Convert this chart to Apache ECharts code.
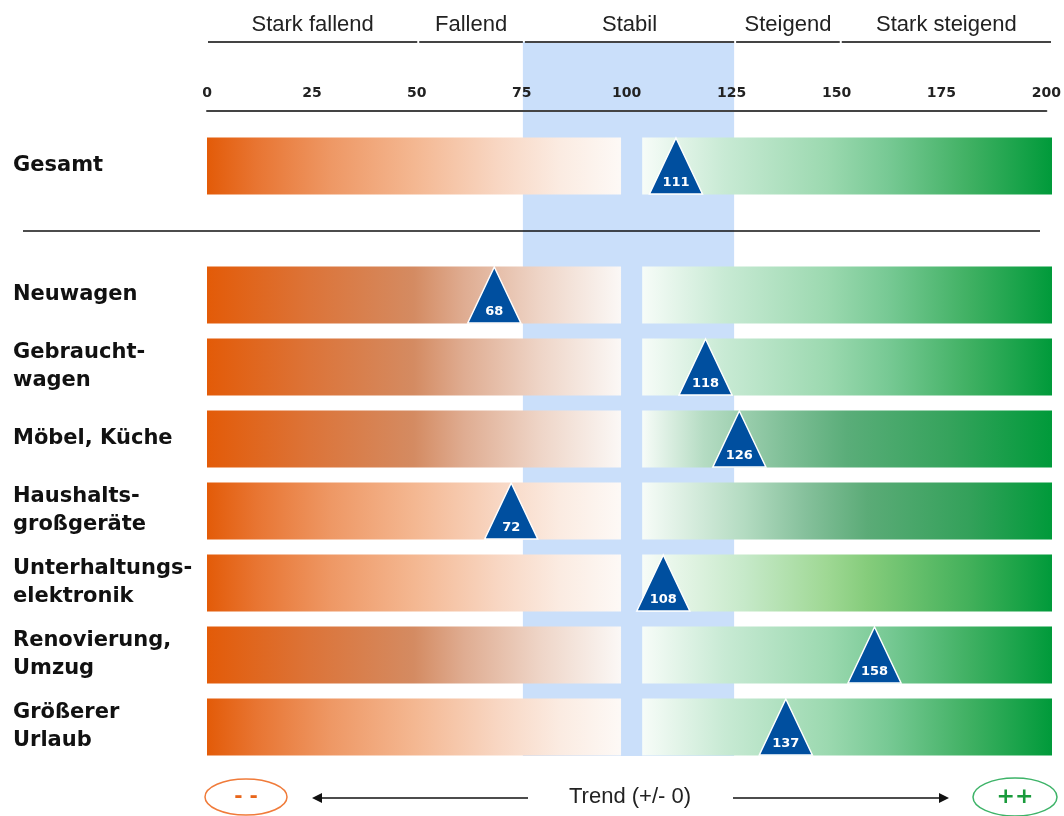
<!DOCTYPE html>
<html>
<head>
<meta charset="utf-8">
<script src="https://cdn.jsdelivr.net/npm/echarts@6/dist/echarts.min.js"></script>
<style>html,body{margin:0;padding:0;background:#fff;}#c{width:1064px;height:816px;}</style>
</head>
<body>
<div id="c"></div>
<script>
// ---- data ----
const totalName = ['Gesamt'];
const totalValue = [111];
const rowNames = ['Neuwagen', 'Gebraucht-\nwagen', 'Möbel, Küche', 'Haushalts-\ngroßgeräte', 'Unterhaltungs-\nelektronik', 'Renovierung,\nUmzug', 'Größerer\nUrlaub'];
const rowValues = [68, 118, 126, 72, 108, 158, 137];
const zoneLabels = ['Stark fallend', 'Fallend', 'Stabil', 'Steigend', 'Stark steigend'];
const zoneBounds = [0, 50, 75, 125, 150, 200];
const stableZone = [75, 125];
const scaleMin = 0, scaleMax = 200, tickStep = 25;
const leftEnd = 98, rightStart = 103;
const trendText = 'Trend (+/- 0)';

// ---- styles ----
function grad(stops) {
  return { type: 'linear', x: 0, y: 0, x2: 1, y2: 0,
    colorStops: stops.map(s => ({ offset: s[0], color: s[1] })) };
}
const orangeGrad = {
  light: grad([[0,'#e35b08'],[0.12,'#e87532'],[0.3,'#ee9865'],[0.5,'#f4b791'],[0.7,'#f8d6c2'],[0.85,'#fbebe1'],[1,'#fdf9f6']]),
  brown: grad([[0,'#e35b08'],[0.25,'#dc7439'],[0.5,'#d48b62'],[0.62,'#dfac91'],[0.8,'#eed4c6'],[1,'#fbf8f6']])
};
const greenGrad = {
  base: grad([[0,'#f7fcf8'],[0.2,'#c8ead4'],[0.45,'#9cd9b0'],[0.6,'#77c994'],[0.8,'#3fb062'],[1,'#009a3a']]),
  dark: grad([[0,'#f7fcf8'],[0.15,'#b5dcc3'],[0.35,'#7fbf97'],[0.5,'#5aad79'],[0.75,'#35a35c'],[1,'#009a3a']]),
  haus: grad([[0,'#f7fcf8'],[0.25,'#b3dbc1'],[0.4,'#85c09b'],[0.55,'#5bab77'],[0.8,'#33a15a'],[1,'#009a3a']]),
  yell: grad([[0,'#f7fcf8'],[0.25,'#c6e9c9'],[0.45,'#9fd894'],[0.55,'#85cc7b'],[0.8,'#42b05a'],[1,'#009a3a']])
};
const totalStyle = [['light','base']];
const rowStyle = [['brown','base'],['brown','base'],['brown','dark'],['light','haus'],['light','yell'],['brown','base'],['light','base']];

const LEFT = 207, RIGHT = 12;
const labelFont = { fontFamily: 'DejaVu Sans', fontWeight: 'bold', fontSize: 21, color: '#111', lineHeight: 28 };

function catAxis(gi, names) {
  return { type: 'category', gridIndex: gi, data: names, inverse: true,
    axisLine: { show: false }, axisTick: { show: false }, splitLine: { show: false },
    axisLabel: Object.assign({ align: 'left', margin: LEFT - 13 }, labelFont) };
}
function hiddenX(gi) {
  return { type: 'value', gridIndex: gi, min: scaleMin, max: scaleMax, show: false };
}
function barSeries(gi, names, styles, values) {
  const common = { type: 'bar', xAxisIndex: gi, yAxisIndex: gi, stack: 'row' + gi, barWidth: 57, z: 2, silent: true };
  return [
    Object.assign({}, common, { data: names.map((n, i) => ({ value: leftEnd, itemStyle: { color: orangeGrad[styles[i][0]] } })) }),
    Object.assign({}, common, { data: names.map(() => ({ value: rightStart - leftEnd, itemStyle: { color: 'rgba(0,0,0,0)' } })) }),
    Object.assign({}, common, { data: names.map((n, i) => ({ value: scaleMax - rightStart, itemStyle: { color: greenGrad[styles[i][1]] } })) }),
    { type: 'scatter', xAxisIndex: gi, yAxisIndex: gi, z: 5, silent: true,
      symbol: 'triangle', symbolSize: [53, 56],
      itemStyle: { color: '#004f9f', opacity: 1, borderColor: '#ffffff', borderWidth: 1.5 },
      label: { show: true, position: 'inside', offset: [0, 17], color: '#fff',
        fontFamily: 'DejaVu Sans', fontWeight: 'bold', fontSize: 13,
        formatter: p => p.value[0] },
      data: values.map((v, i) => [v, names[i]]) }
  ];
}

const option = {
  animation: false,
  backgroundColor: '#fff',
  grid: [
    { left: LEFT, right: RIGHT, top: 42, bottom: 60 },
    { left: LEFT, right: RIGHT, top: 110, height: 1 },
    { left: LEFT, right: RIGHT, top: 130, height: 72 },
    { left: LEFT, right: RIGHT, top: 259, height: 504 }
  ],
  xAxis: [
    hiddenX(0),
    { type: 'value', gridIndex: 1, position: 'top', min: scaleMin, max: scaleMax, interval: tickStep,
      axisLine: { show: true, lineStyle: { color: '#444', width: 2 } },
      axisTick: { show: false }, splitLine: { show: false },
      axisLabel: { fontFamily: 'DejaVu Sans', fontWeight: 'bold', fontSize: 14, color: '#222', margin: 10 } },
    hiddenX(2),
    hiddenX(3)
  ],
  yAxis: [
    { type: 'value', gridIndex: 0, min: 0, max: 1, show: false },
    { type: 'value', gridIndex: 1, min: 0, max: 1, show: false },
    catAxis(2, totalName),
    catAxis(3, rowNames)
  ],
  series: [
    { type: 'custom', xAxisIndex: 0, yAxisIndex: 0, z: 0, silent: true,
      data: [[stableZone[0], stableZone[1]]],
      renderItem: function (params, api) {
        const a = api.coord([api.value(0), 1]);
        const b = api.coord([api.value(1), 0]);
        return { type: 'rect', shape: { x: a[0] - 1, y: a[1], width: b[0] - a[0], height: b[1] - a[1] },
          style: { fill: '#cadffa' } };
      } },
    { type: 'custom', xAxisIndex: 0, yAxisIndex: 0, z: 3, silent: true,
      data: zoneLabels.map((n, i) => [zoneBounds[i], zoneBounds[i + 1]]),
      renderItem: function (params, api) {
        const a = api.coord([api.value(0), 1]);
        const b = api.coord([api.value(1), 1]);
        return { type: 'group', children: [
          { type: 'line', shape: { x1: a[0] + 1, y1: a[1], x2: b[0] - 1, y2: b[1] },
            style: { stroke: '#444', lineWidth: 2 } },
          { type: 'text', style: { text: zoneLabels[params.dataIndex], x: (a[0] + b[0]) / 2, y: a[1] - 17,
            align: 'center', verticalAlign: 'middle', fill: '#222',
            font: '22px "Liberation Sans", Arial, sans-serif' } }
        ] };
      } }
  ].concat(barSeries(2, totalName, totalStyle, totalValue))
   .concat(barSeries(3, rowNames, rowStyle, rowValues)),
  graphic: [
    { type: 'line', shape: { x1: 23, y1: 231, x2: 1040, y2: 231 }, style: { stroke: '#111', lineWidth: 1.5 }, z: 10 },
    { type: 'ellipse', shape: { cx: 246, cy: 797, rx: 41, ry: 18 }, style: { fill: '#fff', stroke: '#f07b3a', lineWidth: 1.5 } },
    { type: 'text', style: { text: '- -', x: 246, y: 797, align: 'center', verticalAlign: 'middle', fill: '#e8651a',
      font: 'bold 20px "DejaVu Sans", sans-serif' } },
    { type: 'ellipse', shape: { cx: 1015, cy: 797, rx: 42, ry: 19 }, style: { fill: '#fff', stroke: '#3db368', lineWidth: 1.5 } },
    { type: 'text', style: { text: '++', x: 1015, y: 797, align: 'center', verticalAlign: 'middle', fill: '#1a9b3c',
      font: 'bold 22px "DejaVu Sans", sans-serif' } },
    { type: 'line', shape: { x1: 528, y1: 798, x2: 320, y2: 798 }, style: { stroke: '#111', lineWidth: 1.5 } },
    { type: 'polygon', shape: { points: [[312, 798], [322, 793], [322, 803]] }, style: { fill: '#111' } },
    { type: 'line', shape: { x1: 733, y1: 798, x2: 941, y2: 798 }, style: { stroke: '#111', lineWidth: 1.5 } },
    { type: 'polygon', shape: { points: [[949, 798], [939, 793], [939, 803]] }, style: { fill: '#111' } },
    { type: 'text', style: { text: trendText, x: 630, y: 797, align: 'center', verticalAlign: 'middle', fill: '#222',
      font: '22px "Liberation Sans", Arial, sans-serif' } }
  ]
};
const chart = echarts.init(document.getElementById('c'), null, { renderer: 'canvas' });
chart.setOption(option);
</script>
</body>
</html>
